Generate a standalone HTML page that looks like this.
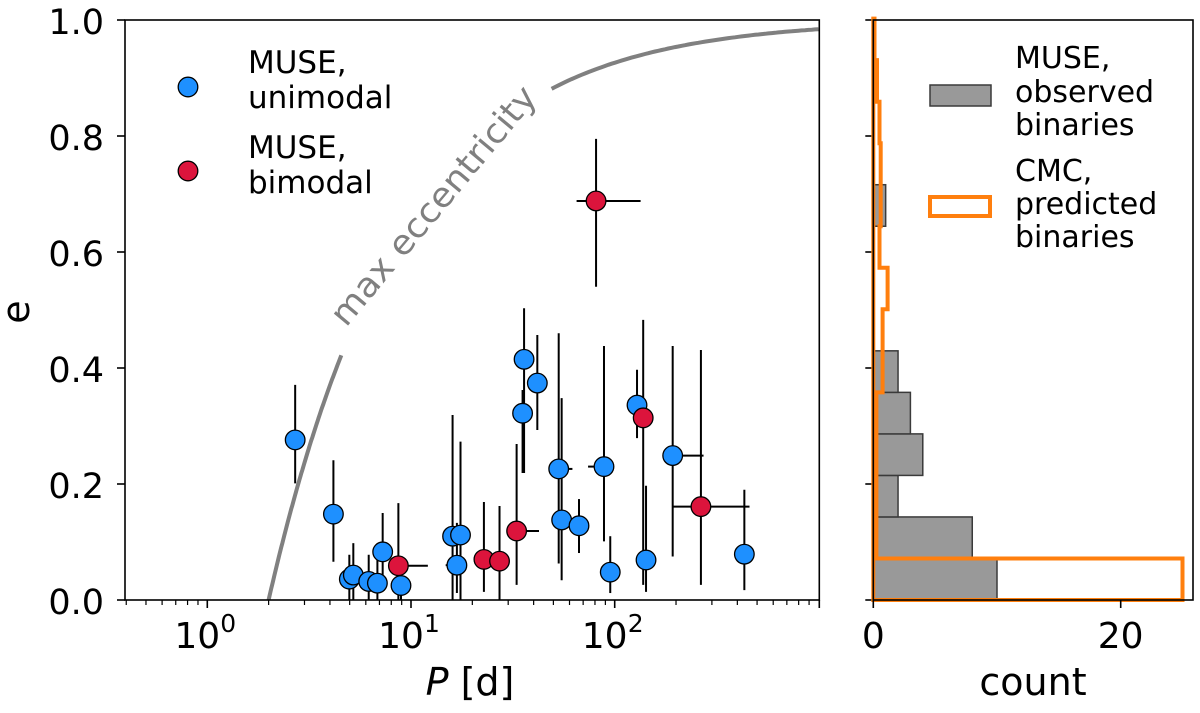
<!DOCTYPE html>
<html><head><meta charset="utf-8"><style>
body{margin:0;background:#fff;}
svg text{font-family:"DejaVu Sans","Liberation Sans",sans-serif;}
</style></head><body>
<svg id="chart" width="1200" height="708" viewBox="0 0 1200 708" xmlns="http://www.w3.org/2000/svg"></svg>
<script>
// ---- scatter data ----
const periods = [2.7,4.16,4.98,5.21,6.2,6.84,7.26,8.67,8.93,16.0,17.5,16.8,22.8,27.2,33.0,35.9,41.7,35.3,81,53.1,54.9,66.8,88.6,95.1,128.7,138,142.5,192.6,265,433];
const eccs    = [0.276,0.148,0.036,0.043,0.032,0.029,0.083,0.059,0.025,0.110,0.112,0.060,0.070,0.067,0.119,0.415,0.374,0.322,0.688,0.226,0.138,0.128,0.230,0.048,0.336,0.314,0.069,0.249,0.161,0.079];
const eLow    = [0.201,0.066,0.0,0.0,0.0,0.0,0.040,0.0,0.0,0.0,0.0,0.012,0.014,0.0,0.026,0.219,0.293,0.219,0.540,0.063,0.034,0.081,0.101,0.012,0.279,0.026,0.014,0.075,0.026,0.017];
const eHigh   = [0.371,0.241,0.078,0.098,0.078,0.069,0.150,0.167,0.060,0.319,0.273,0.133,0.169,0.162,0.269,0.503,0.457,0.362,0.795,0.460,0.348,0.174,0.438,0.110,0.397,0.483,0.197,0.438,0.431,0.190];
const pLow    = [null,null,null,null,null,null,null,7.9,null,null,null,14.8,null,null,29.6,null,null,null,65,null,null,null,74,null,null,null,null,null,192.6,null];
const pHigh   = [null,null,null,null,null,null,null,12.1,null,null,null,null,null,null,42.5,null,null,null,134,62,null,null,null,null,null,null,null,273,459,null];
const bimodal = [0,0,0,0,0,0,0,1,0,0,0,0,1,1,1,0,0,0,1,0,0,0,0,0,0,1,0,0,1,0];
// ---- histogram data ----
const binWidth = 0.0716;
const observedCounts = [10,8,2,4,3,2,0,0,0,1];
const predictedCounts = [25,0.25,0.25,0.25,0.25,0.75,0.75,1.16,0.5,0.6,0.6,0.5,0.3,0.1];
const yTicks = [0,0.2,0.4,0.6,0.8,1.0];
const xTickExp = [0,1,2];
const countTicks = [0,20];

const NS="http://www.w3.org/2000/svg";
const svg=document.getElementById('chart');
function el(tag,attrs,parent){const e=document.createElementNS(NS,tag);for(const k in attrs)e.setAttribute(k,attrs[k]);(parent||svg).appendChild(e);return e;}
const L=125,R=819.3,T=20,B=600;
const xS=p=>207.3+203.7*Math.log10(p);
const yS=e=>B-(B-T)*e;
const HL=873.3,HR=1193;
const cS=c=>HL+12.37*c;

function curve(p0,p1){let d='';for(let i=0;i<=80;i++){const p=p0*Math.pow(p1/p0,i/80);const e=1-Math.pow(p/2,-2/3);d+=(i?'L':'M')+xS(p).toFixed(1)+','+yS(e).toFixed(1);}return d;}
let c1=el('path',{d:curve(2,4.55),stroke:'#808080','stroke-width':4,fill:'none'});


let c2=el('path',{d:curve(49,1000),stroke:'#808080','stroke-width':4,fill:'none'});


let ct=el('text',{x:0,y:0,'font-size':34,fill:'#808080',transform:'translate(346,328) rotate(-50.1)',textLength:300,lengthAdjust:'spacingAndGlyphs'});
ct.textContent='max eccentricity';



for(let i=0;i<periods.length;i++){
  const x=xS(periods[i]),y=yS(eccs[i]);
  const eb=el('line',{x1:x,x2:x,y1:yS(eLow[i]),y2:yS(eHigh[i]),stroke:'#000','stroke-width':2});
  
  
  if(pLow[i]!==null||pHigh[i]!==null){
    const xl=pLow[i]!==null?xS(pLow[i]):x, xr=pHigh[i]!==null?xS(pHigh[i]):x;
    const hb=el('line',{x1:xl,x2:xr,y1:y,y2:y,stroke:'#000','stroke-width':2});
    
    
  }
}
for(let i=0;i<periods.length;i++){
  const c=el('circle',{cx:xS(periods[i]),cy:yS(eccs[i]),r:9.8,fill:bimodal[i]?'#dc143c':'#1e90ff',stroke:'#000','stroke-width':1.3});
  
  
}
let fr=el('rect',{x:L,y:T,width:R-L,height:B-T,fill:'none',stroke:'#000','stroke-width':1.6});


yTicks.forEach(v=>{
  const t=el('line',{x1:L-8,x2:L,y1:yS(v),y2:yS(v),stroke:'#000','stroke-width':1.6});
  
  
  const lb=el('text',{x:104,y:yS(v)+14,'font-size':35,'text-anchor':'end'});
  lb.textContent=v.toFixed(1);
  
  
  const h=el('line',{x1:HL-8,x2:HL,y1:yS(v),y2:yS(v),stroke:'#000','stroke-width':1.6});
  
  
});
for(let d=-1;d<=2;d++){for(let m=1;m<=9;m++){const p=m*Math.pow(10,d);const x=xS(p);if(x<L-0.5||x>R+0.5)continue;
  const t=el('line',{x1:x,x2:x,y1:B,y2:B+(m===1?8:5),stroke:'#000','stroke-width':m===1?1.6:1.2});
  
  }}
{const t=el('line',{x1:R,x2:R,y1:B,y2:B+8,stroke:'#000','stroke-width':1.6});}
xTickExp.forEach(k=>{
  const lb=el('text',{x:xS(Math.pow(10,k))-10,y:648,'font-size':36,'text-anchor':'middle'});
  lb.textContent='10';
  
  
  const s=el('text',{x:xS(Math.pow(10,k))+13,y:632,'font-size':25});
  s.textContent=String(k);
  
  
});
let xl=el('text',{x:470,y:695,'font-size':38,'text-anchor':'middle'});
xl.innerHTML='<tspan font-style="italic">P</tspan> [d]';


let yl=el('text',{x:0,y:0,'font-size':38,'text-anchor':'middle',transform:'translate(29,312) rotate(-90)'});
yl.textContent='e';



[['#1e90ff','MUSE,','unimodal',87,73,108,'legend-unimodal'],['#dc143c','MUSE,','bimodal',171,158,193,'legend-bimodal']].forEach(a=>{
  const c=el('circle',{cx:188,cy:a[3],r:9.8,fill:a[0],stroke:'#000','stroke-width':1.3});
  
  
  const t=el('text',{x:248,y:a[4],'font-size':31});
  t.textContent=a[1];
  
  
  const t2=el('text',{x:248,y:a[5],'font-size':31});
  t2.textContent=a[2];
  
  
});

observedCounts.forEach((c,i)=>{if(!c)return;
  const r=el('rect',{x:HL,y:yS((i+1)*binWidth),width:cS(c)-HL,height:yS(i*binWidth)-yS((i+1)*binWidth),fill:'#999999',stroke:'#3a3a3a','stroke-width':1.5});
  
  
});
let d='M'+HL+','+B;
predictedCounts.forEach((c,i)=>{const x=cS(c);d+='L'+x.toFixed(1)+','+yS(i*binWidth).toFixed(1)+'L'+x.toFixed(1)+','+yS((i+1)*binWidth).toFixed(1);});
d+='L'+HL+','+yS(predictedCounts.length*binWidth).toFixed(1);
let st=el('path',{d:d+' L'+HL+','+B+' Z',fill:'none',stroke:'#ff7f0e','stroke-width':4});


let hf=el('rect',{x:HL,y:T,width:HR-HL,height:B-T,fill:'none',stroke:'#000','stroke-width':1.6});


countTicks.forEach(v=>{
  const t=el('line',{x1:cS(v),x2:cS(v),y1:B,y2:B+8,stroke:'#000','stroke-width':1.6});
  
  
  const lb=el('text',{x:cS(v),y:648,'font-size':36,'text-anchor':'middle'});
  lb.textContent=String(v);
  
  
});
let cl=el('text',{x:1033,y:695,'font-size':38,'text-anchor':'middle'});
cl.textContent='count';


let lp1=el('rect',{x:930,y:85,width:61,height:21,fill:'#999999',stroke:'#3a3a3a','stroke-width':1.5});


let lp2=el('rect',{x:930,y:197,width:60,height:19,fill:'#fff',stroke:'#ff7f0e','stroke-width':4});


[['MUSE,',68],['observed',102],['binaries',135],['CMC,',181],['predicted',214],['binaries',247]].forEach((a,i)=>{
  const t=el('text',{x:1015,y:a[1],'font-size':30});
  t.textContent=a[0];
  
  
});
</script>
</body></html>
